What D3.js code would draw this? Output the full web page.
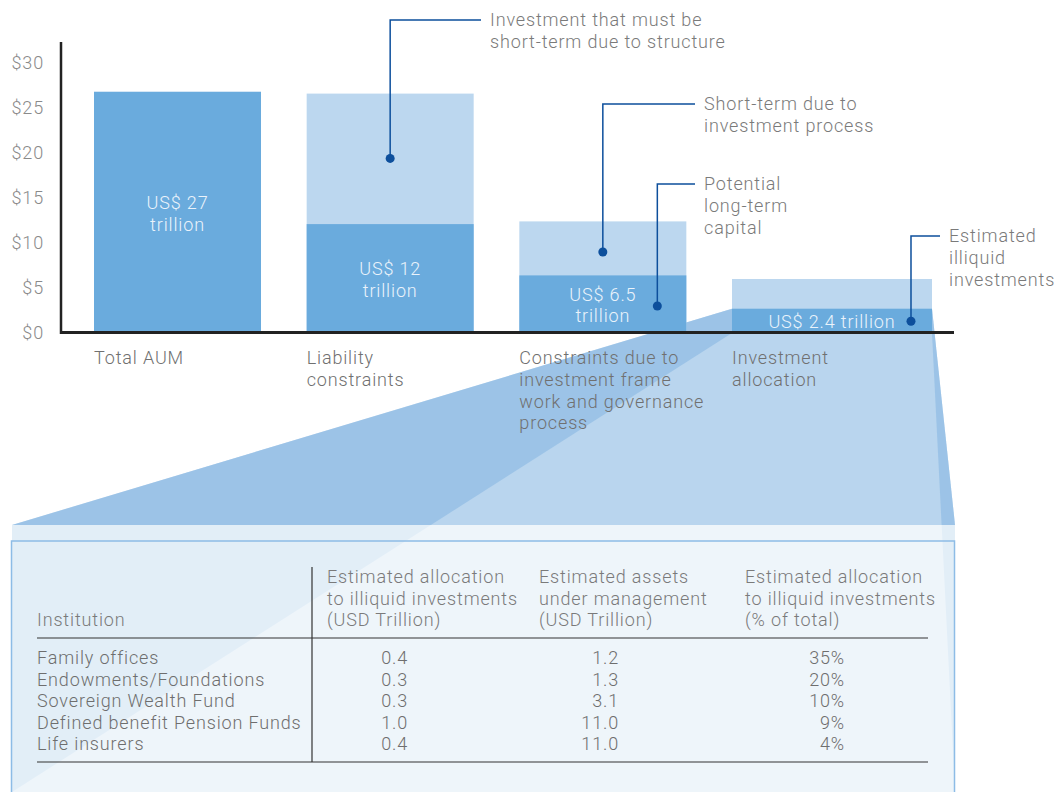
<!DOCTYPE html>
<html>
<head>
<meta charset="utf-8">
<script src="https://cdn.jsdelivr.net/npm/d3@7"></script>
<style>
  body { margin: 0; background: #fff; }
  svg text { font-family: Roboto, "Liberation Sans", sans-serif; font-weight: 300; letter-spacing: 0.85px; }
</style>
</head>
<body>
<div id="chart"></div>
<script>
// bar chart data (US$ trillion)
var categories = ["Total AUM", "Liability constraints", "Constraints due to investment frame work and governance process", "Investment allocation"];
var categoryLines = [["Total AUM"], ["Liability", "constraints"], ["Constraints due to", "investment frame", "work and governance", "process"], ["Investment", "allocation"]];
var upperValues = [26.8, 26.6, 12.4, 6.0];   // light part (total height)
var lowerValues = [26.8, 12.1, 6.4, 2.7];    // dark part
var barLabels = [["US$ 27", "trillion"], ["US$ 12", "trillion"], ["US$ 6.5", "trillion"], ["US$ 2.4 trillion"]];
var yTicks = [0, 5, 10, 15, 20, 25, 30];

// callouts
var calloutValues = [19.4, 9.0, 3.0, 1.3];
var calloutTexts = [
  ["Investment that must be", "short-term due to structure"],
  ["Short-term due to", "investment process"],
  ["Potential", "long-term", "capital"],
  ["Estimated", "illiquid", "investments"]
];

// table data
var tableHeaders = [["Institution"], ["Estimated allocation", "to illiquid investments", "(USD Trillion)"], ["Estimated assets", "under management", "(USD Trillion)"], ["Estimated allocation", "to illiquid investments", "(% of total)"]];
var institutions = ["Family offices", "Endowments/Foundations", "Sovereign Wealth Fund", "Defined benefit Pension Funds", "Life insurers"];
var illiquidAlloc = [0.4, 0.3, 0.3, 1.0, 0.4];
var aumValues = [1.2, 1.3, 3.1, 11.0, 11.0];
var illiquidShare = [35, 20, 10, 9, 4];

var svgWidth = 1058, svgHeight = 792;
var fs = 18, lh = 21.6;

var svg = d3.select("#chart").append("svg")
  .attr("width", svgWidth)
  .attr("height", svgHeight);

var y = d3.scaleLinear().domain([0, 30]).range([333, 63]);
var x = d3.scaleBand().domain(categories).range([94, 899]).paddingInner(0.2147).paddingOuter(0);
var lastExtra = 33;
function barW(i) { return x.bandwidth() + (i === 3 ? lastExtra : 0); }
function barX(i) { return x(categories[i]); }
function barCx(i) { return barX(i) + barW(i) / 2; }

// zoom funnel from last bar to table box
var box = { left: 12, right: 955, top: 525, bottom: 792 };
var fx0 = barX(3), fx1 = barX(3) + barW(3), fyTop = y(lowerValues[3]), fyBot = y(0);
var faces = [
  [[fx0, fyTop], [fx1, fyTop], [box.right, box.top], [box.left, box.top]],
  [[fx0, fyTop], [fx0, fyBot], [box.left, box.bottom], [box.left, box.top]],
  [[fx1, fyTop], [fx1, fyBot], [box.right, box.bottom], [box.right, box.top]]
];
svg.append("g").selectAll("polygon")
  .data(faces)
  .enter()
  .append("polygon")
  .attr("points", d => d.map(p => p.join(",")).join(" "))
  .attr("fill", "#87b6e1")
  .attr("fill-opacity", 0.58);

// table box
svg.append("rect")
  .attr("x", box.left).attr("y", box.top)
  .attr("width", box.right - box.left).attr("height", box.bottom - box.top)
  .attr("fill", "rgb(234,243,249)")
  .attr("fill-opacity", 0.83);
svg.append("rect")
  .attr("x", box.left - 0.5).attr("y", 541)
  .attr("width", box.right - box.left).attr("height", 300)
  .attr("fill", "none")
  .attr("stroke", "#8dbce6")
  .attr("stroke-width", 1.5);

// bars
var bars = svg.append("g");
bars.selectAll(".upper")
  .data(upperValues)
  .enter()
  .append("rect")
  .attr("x", (d, i) => barX(i))
  .attr("y", d => y(d))
  .attr("width", (d, i) => barW(i))
  .attr("height", d => y(0) - y(d))
  .attr("fill", "#bcd7ef");
bars.selectAll(".lower")
  .data(lowerValues)
  .enter()
  .append("rect")
  .attr("x", (d, i) => barX(i))
  .attr("y", d => y(d))
  .attr("width", (d, i) => barW(i))
  .attr("height", d => y(0) - y(d))
  .attr("fill", "#6aabdd");

// bar labels
barLabels.forEach(function(lines, i) {
  var mid = (y(lowerValues[i]) + y(0)) / 2 + 1;
  var t = svg.append("text")
    .attr("text-anchor", "middle")
    .attr("fill", "#eaf3fb")
    .attr("font-size", fs);
  lines.forEach(function(s, k) {
    t.append("tspan")
      .attr("x", barCx(i))
      .attr("y", mid + (k - (lines.length - 1) / 2) * lh)
      .attr("dy", "0.35em")
      .text(s);
  });
});

// axes
var yAxis = d3.axisLeft(y).tickValues(yTicks).tickSize(0).tickPadding(17).tickFormat(d => "$" + d);
var yg = svg.append("g").attr("transform", "translate(61,0)").call(yAxis);
yg.select(".domain").remove();
yg.selectAll("text").attr("font-size", fs).attr("fill", "#8a8a8a")
  .style("font-family", "Roboto, sans-serif");

svg.append("line").attr("x1", 61).attr("x2", 61).attr("y1", 42).attr("y2", 334)
  .attr("stroke", "#222").attr("stroke-width", 2.5);
svg.append("line").attr("x1", 60).attr("x2", 954).attr("y1", y(0) - 0.5).attr("y2", y(0) - 0.5)
  .attr("stroke", "#222").attr("stroke-width", 3);

// category labels
categoryLines.forEach(function(lines, i) {
  var t = svg.append("text").attr("fill", "#707070").attr("font-size", fs);
  lines.forEach(function(s, k) {
    t.append("tspan")
      .attr("x", barX(i))
      .attr("y", 358 + k * lh)
      .attr("dy", "0.35em")
      .text(s);
  });
});

// callouts
var elbowY = [20, 104, 184, 236];
var calloutX = [barCx(1), barCx(2), barX(2) + 138, barX(3) + 179];
var textX = [490, 704, 704, 949];
calloutValues.forEach(function(v, i) {
  var cx = calloutX[i], cy = y(v);
  svg.append("path")
    .attr("d", `M${cx},${cy}V${elbowY[i]}H${textX[i] - 9}`)
    .attr("fill", "none")
    .attr("stroke", "#0d4f9c")
    .attr("stroke-width", 1.5);
  svg.append("circle")
    .attr("cx", cx).attr("cy", cy).attr("r", 4.5)
    .attr("fill", "#0d4f9c");
  var t = svg.append("text").attr("fill", "#7a7a7a").attr("font-size", fs);
  calloutTexts[i].forEach(function(s, k) {
    t.append("tspan")
      .attr("x", textX[i])
      .attr("y", elbowY[i] + k * lh)
      .attr("dy", "0.35em")
      .text(s);
  });
});

// table
var headerX = [37, 327, 539, 745];
var valueRight = [408, 619, 845];
var headerLast = 620;
tableHeaders.forEach(function(lines, c) {
  var t = svg.append("text").attr("fill", "#7a7a7a").attr("font-size", fs);
  lines.forEach(function(s, k) {
    t.append("tspan")
      .attr("x", headerX[c])
      .attr("y", headerLast - (lines.length - 1 - k) * lh)
      .attr("dy", "0.35em")
      .text(s);
  });
});

var rowY = d3.scalePoint().domain(institutions).range([658, 744]);
var tbl = svg.append("g").attr("font-size", fs).attr("fill", "#6e6e6e");
tbl.selectAll(".inst")
  .data(institutions)
  .enter()
  .append("text")
  .attr("x", headerX[0])
  .attr("y", d => rowY(d))
  .attr("dy", "0.35em")
  .text(d => d);

var cols = [
  illiquidAlloc.map(d => d.toFixed(1)),
  aumValues.map(d => d.toFixed(1)),
  illiquidShare.map(d => d + "%")
];
cols.forEach(function(col, c) {
  tbl.selectAll(".col" + c)
    .data(col)
    .enter()
    .append("text")
    .attr("x", valueRight[c])
    .attr("y", (d, i) => rowY(institutions[i]))
    .attr("dy", "0.35em")
    .attr("text-anchor", "end")
    .text(d => d);
});

// rules
svg.append("line").attr("x1", 37).attr("x2", 928).attr("y1", 638).attr("y2", 638)
  .attr("stroke", "#333").attr("stroke-width", 1.2);
svg.append("line").attr("x1", 37).attr("x2", 928).attr("y1", 762).attr("y2", 762)
  .attr("stroke", "#333").attr("stroke-width", 1.2);
svg.append("line").attr("x1", 312).attr("x2", 312).attr("y1", 567).attr("y2", 762)
  .attr("stroke", "#333").attr("stroke-width", 1.2);
</script>
</body>
</html>
